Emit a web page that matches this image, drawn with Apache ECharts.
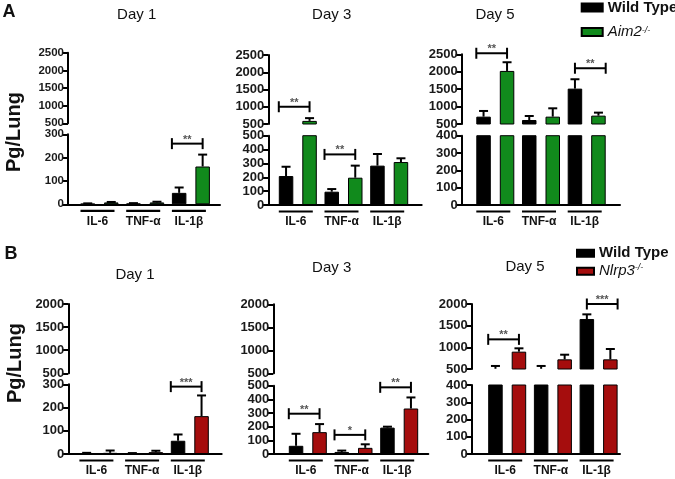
<!DOCTYPE html>
<html><head><meta charset="utf-8">
<script src="https://cdn.jsdelivr.net/npm/echarts@6/dist/echarts.min.js"></script>
<style>html,body{margin:0;padding:0;background:#fff}#c{width:675px;height:479px}</style>
</head><body><div id="c"></div>
<script>
// ---------------- data ----------------
const categories = ['IL-6', 'TNF-\u03b1', 'IL-1\u03b2'];
const dayTitles = ['Day 1', 'Day 3', 'Day 5'];
const rowLetters = ['A', 'B'];
const yTitle = 'Pg/Lung';
const wtName = 'Wild Type';
const koNames = ['Aim2-/-', 'Nlrp3-/-'];

const upperTicksA = [500, 1000, 1500, 2000, 2500];
const upperTicksB = [500, 1000, 1500, 2000];
const lowerTicksDay1 = [0, 100, 200, 300];
const lowerTicksDay3 = [0, 100, 200, 300, 400, 500];
const lowerTicksDay5 = [0, 100, 200, 300, 400];

// Row A: Wild Type vs Aim2-/-  (mean, top of error bar)
const aWtDay1 = [2, 3, 49];        const aWtDay1Err = [4, 5, 72];
const aKoDay1 = [8, 8, 162];       const aKoDay1Err = [10, 11, 213];
const aWtDay3 = [209, 96, 284];    const aWtDay3Err = [276, 115, 368];
const aKoDay3 = [590, 197, 310];   const aKoDay3Err = [670, 284, 337];
const aWtDay5 = [711, 615, 1515];  const aWtDay5Err = [874, 730, 1784];
const aKoDay5 = [2023, 711, 740];  const aKoDay5Err = [2272, 950, 826];

// Row B: Wild Type vs Nlrp3-/-
const bWtDay1 = [3, 2, 57];        const bWtDay1Err = [5, 4, 84];
const bKoDay1 = [5, 8, 163];       const bKoDay1Err = [15, 14, 252];
const bWtDay3 = [60, 15, 193];     const bWtDay3Err = [148, 25, 200];
const bKoDay3 = [160, 45, 333];    const bKoDay3Err = [219, 71, 414];
const bWtDay5 = [505, 505, 1654];  const bWtDay5Err = [570, 570, 1761];
const bKoDay5 = [900, 723, 723];   const bKoDay5Err = [977, 830, 961];

// significance brackets: [category index, y value, stars, anchored at WT centre (1) or WT left edge (0)]
const aBracketsDay1 = [[2, 260, '**', 0]];
const aBracketsDay3 = [[0, 1000, '**', 0], [1, 365, '**', 0]];
const aBracketsDay5 = [[0, 2530, '**', 0], [2, 2100, '**', 1]];
const bBracketsDay1 = [[2, 290, '***', 0]];
const bBracketsDay3 = [[0, 295, '**', 0], [1, 140, '*', 0], [2, 488, '**', 0]];
const bBracketsDay5 = [[0, 1184, '**', 0], [2, 2000, '***', 1]];

// ---------------- styling / layout ----------------
const FONT = '"Liberation Sans", Arial, sans-serif';
const koColors = ['#118a1c', '#a50d0d'];
const SPACING = 45.7, BAR_W = 14.5, BAR_GAP_PX = 9, CAP = 4.5;
const OFF = (BAR_W + BAR_GAP_PX) / 2;

const panels = [
  {row: 0, day: 0, ax: 68,    xe: 220,   uTop: 52.7, uBot: 123.3, lTop: 134.3, lBot: 204.3, gap: 31.5, fs: 11.5,
   upper: upperTicksA, lower: lowerTicksDay1, wt: aWtDay1, wtErr: aWtDay1Err, ko: aKoDay1, koErr: aKoDay1Err, br: aBracketsDay1, tx: 136.7, ty: 15},
  {row: 0, day: 1, ax: 268.3, xe: 421.7, uTop: 55,   uBot: 124,   lTop: 135.7, lBot: 205,   gap: 29.5, fs: 13,
   upper: upperTicksA, lower: lowerTicksDay3, wt: aWtDay3, wtErr: aWtDay3Err, ko: aKoDay3, koErr: aKoDay3Err, br: aBracketsDay3, tx: 331.7, ty: 15},
  {row: 0, day: 2, ax: 461.7, xe: 620,   uTop: 54.3, uBot: 124,   lTop: 135.7, lBot: 205,   gap: 33.6, fs: 13,
   upper: upperTicksA, lower: lowerTicksDay5, wt: aWtDay5, wtErr: aWtDay5Err, ko: aKoDay5, koErr: aKoDay5Err, br: aBracketsDay5, tx: 495, ty: 15},
  {row: 1, day: 0, ax: 68.3,  xe: 221.7, uTop: 304,  uBot: 373.3, lTop: 384.3, lBot: 454,   gap: 30.1, fs: 13,
   upper: upperTicksB, lower: lowerTicksDay1, wt: bWtDay1, wtErr: bWtDay1Err, ko: bKoDay1, koErr: bKoDay1Err, br: bBracketsDay1, tx: 135, ty: 275},
  {row: 1, day: 1, ax: 273.3, xe: 428.3, uTop: 304.3, uBot: 373.3, lTop: 385.7, lBot: 454,  gap: 34.5, fs: 13,
   upper: upperTicksB, lower: lowerTicksDay3, wt: bWtDay3, wtErr: bWtDay3Err, ko: bKoDay3, koErr: bKoDay3Err, br: bBracketsDay3, tx: 331.7, ty: 267.5},
  {row: 1, day: 2, ax: 471.7, xe: 620,   uTop: 304,  uBot: 369,   lTop: 385,   lBot: 454,   gap: 35.5, fs: 13,
   upper: upperTicksB, lower: lowerTicksDay5, wt: bWtDay5, wtErr: bWtDay5Err, ko: bKoDay5, koErr: bKoDay5Err, br: bBracketsDay5, tx: 525, ty: 267}
];

function renderErr(params, api) {
  const cs = params.coordSys;
  const x = api.coord([api.value(0), 0])[0] + (api.value(3) ? OFF : -OFF);
  const yv = api.coord([0, api.value(1)])[1];
  const ye = api.coord([0, api.value(2)])[1];
  const top = cs.y, bot = cs.y + cs.height;
  if (yv < top - 0.5) return null;
  const y0 = Math.min(yv, bot), y1 = Math.max(ye, top);
  if (y1 >= y0) return null;
  const children = [{type: 'line', shape: {x1: x, y1: y0, x2: x, y2: y1}, style: {stroke: '#000', lineWidth: 2}}];
  if (ye >= top) children.push({type: 'line', shape: {x1: x - CAP, y1: ye, x2: x + CAP, y2: ye}, style: {stroke: '#000', lineWidth: 2}});
  return {type: 'group', children};
}

function makeBracket(list) {
  return function (params, api) {
    const b = list[params.dataIndex];
    const p = api.coord([b[0], b[1]]);
    const x0 = b[3] ? p[0] - OFF : p[0] - OFF - BAR_W / 2;
    const x1 = b[3] ? p[0] + OFF + BAR_W / 2 : p[0] + OFF;
    const y = p[1];
    const st = {stroke: '#000', lineWidth: 2};
    return {type: 'group', children: [
      {type: 'line', shape: {x1: x0, y1: y, x2: x1, y2: y}, style: st},
      {type: 'line', shape: {x1: x0, y1: y - 5.5, x2: x0, y2: y + 5.5}, style: st},
      {type: 'line', shape: {x1: x1, y1: y - 5.5, x2: x1, y2: y + 5.5}, style: st},
      {type: 'text', x: (x0 + x1) / 2, y: y - 4, style: {text: b[2], font: 'bold 11px ' + FONT, fill: '#555', align: 'center', verticalAlign: 'middle'}}
    ]};
  };
}

function renderCat(params, api) {
  const cs = params.coordSys;
  const c = api.coord([api.value(0), 0])[0];
  const yb = cs.y + cs.height;
  return {type: 'group', children: [
    {type: 'line', shape: {x1: c - 19, y1: yb + 6.5, x2: c + 15, y2: yb + 6.5}, style: {stroke: '#000', lineWidth: 2.2}},
    {type: 'text', x: c - 2, y: yb + 17, style: {text: categories[params.dataIndex], font: 'bold 12px ' + FONT, fill: '#111', align: 'center', verticalAlign: 'middle'}}
  ]};
}

const grids = [], xAxes = [], yAxes = [], series = [], graphics = [];

panels.forEach(p => {
  const xmin = -p.gap / SPACING, xmax = (p.xe - p.ax - p.gap) / SPACING;
  const koName = koNames[p.row], koColor = koColors[p.row];
  const lowerMax = p.lower[p.lower.length - 1];
  const segs = [
    {kind: 'upper', top: p.uTop, bottom: p.uBot, ticks: p.upper},
    {kind: 'lower', top: p.lTop, bottom: p.lBot, ticks: p.lower}
  ];
  segs.forEach(seg => {
    const gi = grids.length;
    grids.push({left: p.ax, top: seg.top, width: p.xe - p.ax, height: seg.bottom - seg.top});
    const lo = seg.ticks[0], hi = seg.ticks[seg.ticks.length - 1], step = seg.ticks[1] - seg.ticks[0];
    xAxes.push({gridIndex: gi, type: 'value', min: xmin, max: xmax,
      axisLine: {show: seg.kind === 'lower', onZero: false, lineStyle: {color: '#000', width: 2}},
      axisTick: {show: false}, axisLabel: {show: false}, splitLine: {show: false}});
    yAxes.push({gridIndex: gi, type: 'value', min: lo, max: hi, interval: step,
      axisLine: {show: true, onZero: false, lineStyle: {color: '#000', width: 2}},
      axisTick: {show: true, length: 6, lineStyle: {color: '#000', width: 2}},
      axisLabel: {margin: 4, color: '#1a1a1a', fontSize: p.fs, fontWeight: 'bold', fontFamily: FONT,
                  formatter: v => String(v)},
      splitLine: {show: false}});
    const keep = v => (seg.kind === 'upper' && v < lo) ? '-' : v;
    series.push({type: 'bar', name: wtName, xAxisIndex: gi, yAxisIndex: gi, barWidth: BAR_W,
      barGap: (BAR_GAP_PX / BAR_W * 100).toFixed(2) + '%', clip: true, silent: true,
      itemStyle: {color: '#000', borderColor: '#000', borderWidth: 1},
      data: p.wt.map((v, i) => [i, keep(v)])});
    series.push({type: 'bar', name: koName, xAxisIndex: gi, yAxisIndex: gi, barWidth: BAR_W,
      barGap: (BAR_GAP_PX / BAR_W * 100).toFixed(2) + '%', clip: true, silent: true,
      itemStyle: {color: koColor, borderColor: '#000', borderWidth: 1},
      data: p.ko.map((v, i) => [i, keep(v)])});
    const errData = [];
    p.wt.forEach((v, i) => errData.push([i, v, p.wtErr[i], 0]));
    p.ko.forEach((v, i) => errData.push([i, v, p.koErr[i], 1]));
    series.push({type: 'custom', xAxisIndex: gi, yAxisIndex: gi, data: errData, renderItem: renderErr, z: 5, silent: true, clip: false});
    const br = p.br.filter(b => seg.kind === 'upper' ? b[1] > lowerMax : b[1] <= lowerMax);
    if (br.length) {
      series.push({type: 'custom', xAxisIndex: gi, yAxisIndex: gi, data: br.map(b => [b[0], b[1]]),
        renderItem: makeBracket(br), z: 6, silent: true, clip: false});
    }
    if (seg.kind === 'lower') {
      series.push({type: 'custom', xAxisIndex: gi, yAxisIndex: gi, data: categories.map((c, i) => [i, 0]),
        renderItem: renderCat, z: 6, silent: true, clip: false});
    }
  });
  graphics.push({type: 'text', x: p.tx, y: p.ty, style: {text: dayTitles[p.day], font: '15px ' + FONT, fill: '#111', align: 'center', verticalAlign: 'middle'}});
});

graphics.push({type: 'text', x: 9, y: 12.5, style: {text: rowLetters[0], font: 'bold 18px ' + FONT, fill: '#111', align: 'center', verticalAlign: 'middle'}});
graphics.push({type: 'text', x: 11, y: 254.5, style: {text: rowLetters[1], font: 'bold 18px ' + FONT, fill: '#111', align: 'center', verticalAlign: 'middle'}});
graphics.push({type: 'text', x: 14, y: 132, rotation: Math.PI / 2, style: {text: yTitle, font: 'bold 20px ' + FONT, fill: '#111', align: 'center', verticalAlign: 'middle'}});
graphics.push({type: 'text', x: 15, y: 363, rotation: Math.PI / 2, style: {text: yTitle, font: 'bold 20px ' + FONT, fill: '#111', align: 'center', verticalAlign: 'middle'}});

function legendFmt(name) {
  if (name === wtName) return '{w|' + name + '}';
  return '{i|' + name.replace('-/-', '') + '}{s|-/-}';
}
function legendRich(lh) {
  return {
    w: {fontWeight: 'bold', fontSize: 15, lineHeight: lh, fontFamily: FONT, color: '#111'},
    i: {fontStyle: 'italic', fontSize: 15, lineHeight: lh, fontFamily: FONT, color: '#111'},
    s: {fontStyle: 'italic', fontSize: 9, lineHeight: 8, verticalAlign: 'top', fontFamily: FONT, color: '#111'}
  };
}

const option = {
  animation: false,
  backgroundColor: '#fff',
  grid: grids, xAxis: xAxes, yAxis: yAxes, series: series,
  graphic: graphics,
  legend: [
    {data: [wtName, koNames[0]], orient: 'vertical', left: 580.7, top: 0, padding: 0, icon: 'rect',
     itemWidth: 21, itemHeight: 8, itemGap: 9.5, selectedMode: false, formatter: legendFmt,
     textStyle: {rich: legendRich(12)}},
    {data: [wtName, koNames[1]], orient: 'vertical', left: 576, top: 245.7, padding: 0, icon: 'rect',
     itemWidth: 17, itemHeight: 7, itemGap: 2.6, selectedMode: false, formatter: legendFmt,
     textStyle: {rich: legendRich(16)}}
  ]
};

const chart = echarts.init(document.getElementById('c'), null, {renderer: 'canvas'});
chart.setOption(option);
</script>
</body></html>
